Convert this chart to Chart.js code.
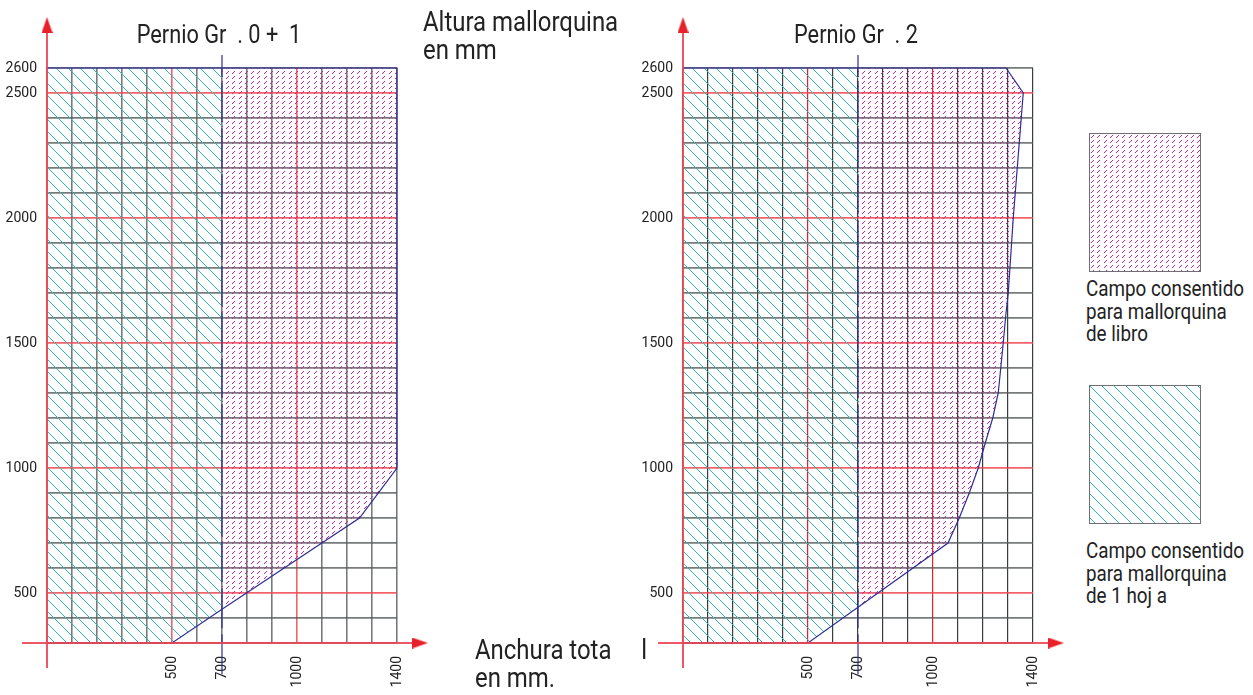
<!DOCTYPE html>
<html lang="es">
<head>
<meta charset="utf-8">
<title>Pernio Gr. 0 + 1 / Pernio Gr. 2</title>
<script src="https://cdn.jsdelivr.net/npm/chart.js@4.4.1/dist/chart.umd.min.js"></script>
<style>
  html, body { margin: 0; padding: 0; background: #fff; }
  body {
    width: 1253px; height: 695px; position: relative; overflow: hidden;
    font-family: Roboto, "Liberation Sans", sans-serif;
    color: #222;
  }
  canvas.chart { position: absolute; top: 0; }
  #gr01 { left: 0; }
  #gr2 { left: 636px; }
  .txt { position: absolute; white-space: pre; transform-origin: left top; transform: scaleX(0.855); }
  .title { font-size: 25px; line-height: 25px; top: 22px; transform-origin: center top; transform: translateX(-50%) scaleX(0.87); }
  .axis-name { font-size: 28px; line-height: 28px; }
  .caption { font-size: 22px; line-height: 22.5px; left: 1086px; }
  .swatch { position: absolute; left: 1089px; border: 1px solid #707070; }
</style>
</head>
<body>
<canvas id="gr01" class="chart" width="440" height="695"></canvas>
<canvas id="gr2" class="chart" width="440" height="695"></canvas>

<div class="txt title" style="left:219px">Pernio Gr  . 0 +  1</div>
<div class="txt title" style="left:856px">Pernio Gr  . 2</div>
<div class="txt axis-name" style="left:423px; top:8px">Altura mallorquina
en mm</div>
<div class="txt axis-name" style="left:475px; top:636px">Anchura tota     l
en mm.</div>

<canvas id="swatchBook" class="swatch" width="110" height="137" style="top:133px"></canvas>
<div class="txt caption" style="top:278px">Campo consentido
para mallorquina
de libro</div>
<canvas id="swatchSash" class="swatch" width="110" height="137" style="top:385px"></canvas>
<div class="txt caption" style="top:540px">Campo consentido
para mallorquina
de 1 hoj a</div>

<script>
// axis ranges and labels (mm)
const xRange = [0, 1400];
const yRange = [300, 2600];
const gridStep = 100;
const xTickLabels = [500, 700, 1000, 1400];
const yTickLabels = [500, 1000, 1500, 2000, 2500, 2600];
const sashWidth = 700; // 1 hoja | libro

// axis arrows, drawn past the grid
const axisX = [-100, 1492];
const axisY = [200, 2772];
const splitLineY = [175, 2652];

// limit curve, Pernio Gr. 0 + 1
const gr01LimitX = [500, 700, 1250, 1400, 1400];
const gr01LimitY = [300, 435, 800, 1000, 2600];

// limit curve, Pernio Gr. 2
const gr2LimitX = [500, 700, 1060, 1105, 1145, 1181, 1209, 1239, 1261, 1271, 1281, 1290, 1301, 1321, 1337, 1361, 1292];
const gr2LimitY = [300, 443, 700, 800, 900, 1000, 1100, 1200, 1300, 1400, 1500, 1600, 1700, 2000, 2200, 2500, 2600];

const FONT = 'Roboto, "Liberation Sans", sans-serif';
const RED = 'rgb(232,32,42)';
const NAVY = 'rgb(45,45,150)';

function hatchPattern() {
  const c = document.createElement('canvas');
  c.width = 12; c.height = 12;
  const g = c.getContext('2d');
  g.strokeStyle = 'rgb(45,185,178)';
  g.lineWidth = 1;
  g.beginPath();
  g.moveTo(-2, -2); g.lineTo(14, 14);
  g.moveTo(-2, 10); g.lineTo(2, 14);
  g.moveTo(10, -2); g.lineTo(14, 2);
  g.stroke();
  return g.createPattern(c, 'repeat');
}

function dotPattern() {
  const c = document.createElement('canvas');
  c.width = 25; c.height = 25;
  const g = c.getContext('2d');
  g.fillStyle = 'rgb(200,35,155)';
  for (let i = 0; i < 4; i++) {
    for (let j = 0; j < 5; j++) {
      const x = Math.round(1 + i * 6.25), y = 1 + j * 5;
      g.fillRect(x, y + 2, 1, 1);
      g.fillRect(x + 1, y + 1, 1, 1);
      g.fillRect(x + 2, y, 1, 1);
    }
  }
  return g.createPattern(c, 'repeat');
}

function arrowHead() {
  const c = document.createElement('canvas');
  c.width = 11; c.height = 16;
  const g = c.getContext('2d');
  g.fillStyle = RED;
  g.beginPath();
  g.moveTo(5.5, 0); g.lineTo(11, 16); g.lineTo(0, 16); g.closePath();
  g.fill();
  return c;
}

const hatch = hatchPattern();
const dots = dotPattern();
const arrow = arrowHead();

function pts(xs, ys) {
  return xs.map((x, i) => ({ x, y: ys[i] }));
}

function gridTicks(range) {
  const out = [];
  for (let v = range[0]; v <= range[1]; v += gridStep) out.push({ value: v });
  return out;
}

function buildChart(id, limitX, limitY, darkVerticals) {
  const limit = pts(limitX, limitY);
  const sash = limit.filter(p => p.x <= sashWidth).concat([{ x: sashWidth, y: yRange[1] }]);
  const book = limit.filter(p => p.x >= sashWidth);
  const outline = [{ x: xRange[0], y: yRange[1] }]
    .concat(limit.slice().reverse())
    .concat([{ x: xRange[0], y: yRange[0] }]);

  // the big radius only keeps the arrow image from being culled outside the plot area
  const axisLine = (data, rotation) => ({
    data, borderColor: 'rgba(235,70,85,0.9)', borderWidth: 2, fill: false, clip: false,
    pointStyle: arrow, rotation, pointRadius: [0, 60]
  });

  const datasets = [
    axisLine([{ x: axisX[0], y: yRange[0] }, { x: axisX[1], y: yRange[0] }], 90),
    axisLine([{ x: xRange[0], y: axisY[0] }, { x: xRange[0], y: axisY[1] }], 0),
    {
      data: [{ x: sashWidth, y: splitLineY[0] }, { x: sashWidth, y: splitLineY[1] }],
      borderColor: NAVY, borderWidth: 1.2, borderDash: [40, 6], fill: false, clip: false, pointRadius: 0
    },
    { data: outline, borderColor: NAVY, borderWidth: 1.2, fill: false, pointRadius: 0, clip: false },
    { data: book, borderWidth: 0, pointRadius: 0, backgroundColor: dots, fill: { value: sashWidth } },
    { data: sash, borderWidth: 0, pointRadius: 0, backgroundColor: hatch, fill: { value: xRange[0] } }
  ];

  const grey = 'rgba(85,90,90,0.8)';
  const pink = 'rgba(238,70,80,0.85)';

  return new Chart(document.getElementById(id), {
    type: 'line',
    data: { datasets },
    options: {
      indexAxis: 'y',
      responsive: false,
      animation: false,
      events: [],
      layout: { autoPadding: false, padding: { top: 68, right: 43, bottom: 0, left: 0 } },
      plugins: { legend: { display: false }, tooltip: { enabled: false } },
      scales: {
        x: {
          type: 'linear', position: 'bottom', min: xRange[0], max: xRange[1],
          afterBuildTicks: s => { s.ticks = gridTicks(xRange); },
          afterFit: s => { s.height = 52; },
          border: { display: false },
          grid: {
            drawTicks: false,
            color: c => c.tick.value % 500 === 0 ? (darkVerticals ? RED : pink) : (darkVerticals ? 'rgba(35,40,40,0.9)' : grey),
            lineWidth: darkVerticals ? 1.2 : 1.6
          },
          ticks: {
            autoSkip: false, minRotation: 90, maxRotation: 90, padding: 13, color: '#222',
            font: { family: FONT, size: 14 },
            callback: v => xTickLabels.includes(v) ? String(v) : ''
          }
        },
        y: {
          type: 'linear', position: 'left', min: yRange[0], max: yRange[1],
          afterBuildTicks: s => { s.ticks = gridTicks(yRange); },
          afterFit: s => { s.width = 47; },
          border: { display: false },
          grid: {
            drawTicks: false,
            color: c => c.tick.value % 500 === 0 ? pink : grey,
            lineWidth: 1.8
          },
          ticks: {
            autoSkip: false, padding: 10, color: '#222',
            font: { family: FONT, size: 14 },
            callback: v => yTickLabels.includes(v) ? String(v) : ''
          }
        }
      }
    }
  });
}

buildChart('gr01', gr01LimitX, gr01LimitY, false);
buildChart('gr2', gr2LimitX, gr2LimitY, true);

function paintSwatch(id, pattern) {
  const c = document.getElementById(id);
  const g = c.getContext('2d');
  g.fillStyle = pattern;
  g.fillRect(0, 0, c.width, c.height);
}
paintSwatch('swatchBook', dots);
paintSwatch('swatchSash', hatch);
</script>
</body>
</html>
